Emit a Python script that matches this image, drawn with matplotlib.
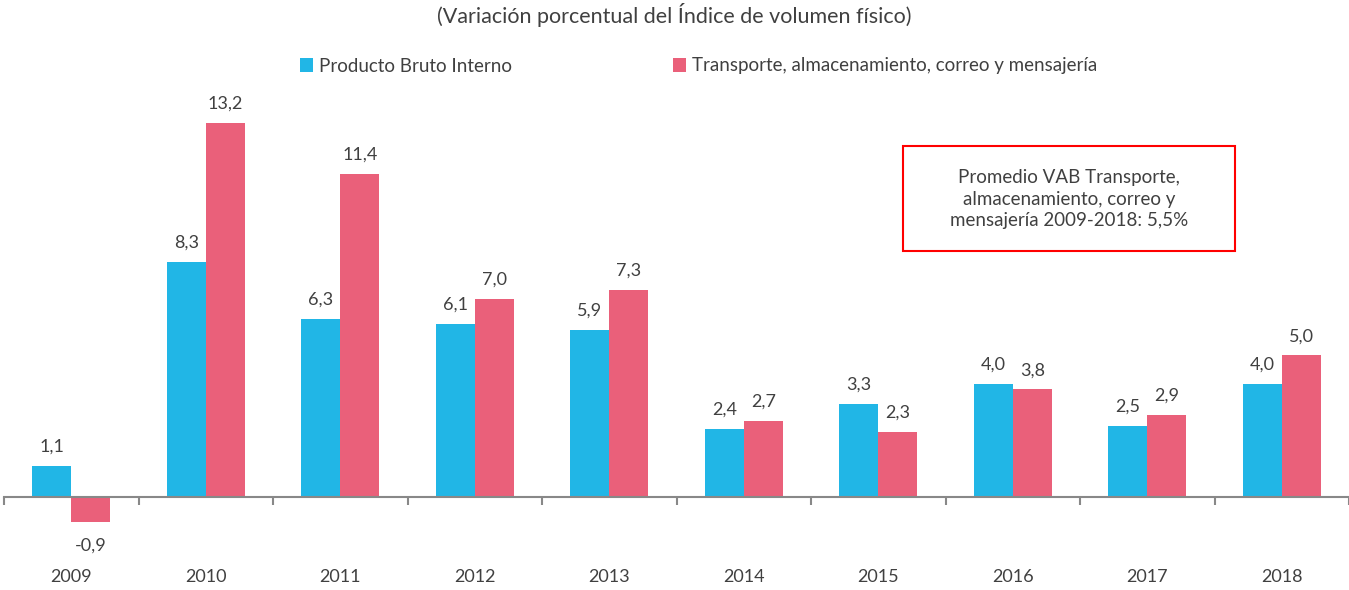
import matplotlib.pyplot as plt
import matplotlib.patches as mpatches
import numpy as np

plt.rcParams['font.family'] = ['Lato', 'DejaVu Sans']

years = ['2009', '2010', '2011', '2012', '2013', '2014', '2015', '2016', '2017', '2018']
pbi = [1.1, 8.3, 6.3, 6.1, 5.9, 2.4, 3.3, 4.0, 2.5, 4.0]
transporte = [-0.9, 13.2, 11.4, 7.0, 7.3, 2.7, 2.3, 3.8, 2.9, 5.0]
series_names = ['Producto Bruto Interno', 'Transporte, almacenamiento, correo y mensajería']

blue = '#21B6E6'
red = '#EA607A'
txt = '#404040'

fig = plt.figure(figsize=(13.49, 5.9), dpi=100)
ax = fig.add_axes([4 / 1349, 30 / 590, 1345 / 1349, 520 / 590])

x = np.arange(len(years))
w = 0.29
b1 = ax.bar(x - w / 2, pbi, w, color=blue, label=series_names[0])
b2 = ax.bar(x + w / 2, transporte, w, color=red, label=series_names[1])

for bars in (b1, b2):
    for r in bars:
        v = r.get_height()
        if v >= 0:
            ax.annotate(f'{v:.1f}'.replace('.', ','), (r.get_x() + r.get_width() / 2, v),
                        xytext=(0, 8), textcoords='offset points', ha='center', va='bottom',
                        fontsize=13, color=txt)
        else:
            ax.annotate(f'{v:.1f}'.replace('.', ','), (r.get_x() + r.get_width() / 2, v),
                        xytext=(0, -11), textcoords='offset points', ha='center', va='top',
                        fontsize=13, color=txt)

ax.set_xlim(-0.5, len(years) - 0.5)
ax.set_ylim(-63 / 28.33, 457 / 28.33)
# zero line with boundary ticks
ax.spines[['top', 'right', 'left']].set_visible(False)
ax.spines['bottom'].set_position(('data', 0))
ax.spines['bottom'].set_color('#888888')
ax.spines['bottom'].set_linewidth(1.5)
ax.set_yticks([])
ax.set_xticks(x)
ax.set_xticklabels(years, fontsize=13, color=txt)
ax.tick_params(axis='x', which='major', length=0, pad=52)
ax.set_xticks(np.arange(-0.5, len(years)), minor=True)
ax.tick_params(axis='x', which='minor', length=6, width=1.5, color='#888888')

fig.text(0.5, 1 - 15 / 590, '(Variación porcentual del Índice de volumen físico)',
         ha='center', va='center', fontsize=15.5, color=txt)

fig.legend(handles=[b1, b2], loc='center', bbox_to_anchor=(0.518, 1 - 66 / 590), ncol=2,
           frameon=False, fontsize=13.5, handlelength=0.7, handleheight=0.7,
           handletextpad=0.3, columnspacing=8.6, labelcolor=txt)

rect = mpatches.Rectangle((903 / 1349, 1 - 251 / 590), 332 / 1349, 105 / 590,
                          transform=fig.transFigure, fill=False, edgecolor='#FF0000', linewidth=1.5)
fig.patches.append(rect)
fig.text(1069 / 1349, 1 - 199 / 590,
         'Promedio VAB Transporte,\nalmacenamiento, correo y\nmensajería 2009-2018: 5,5%',
         ha='center', va='center', fontsize=13.5, color=txt, linespacing=1.3)

fig.savefig('out.png', dpi=100)
